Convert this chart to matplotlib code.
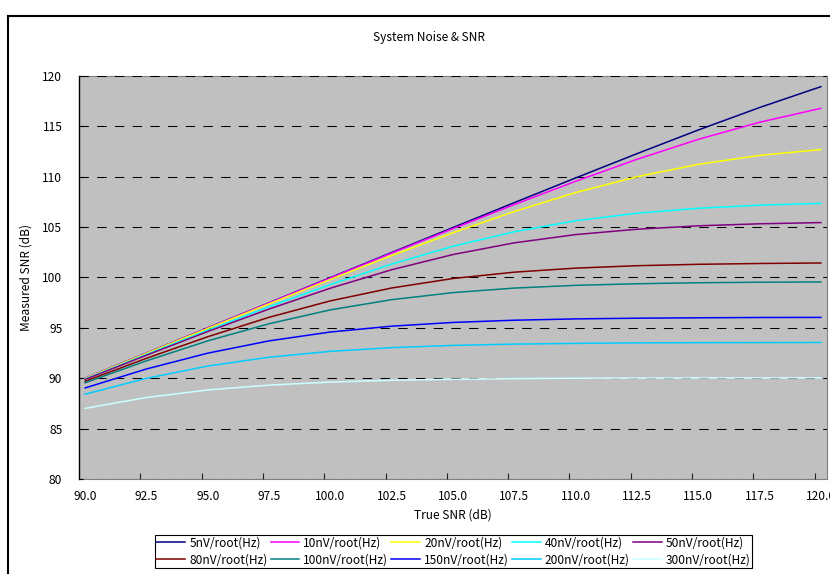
import matplotlib
matplotlib.use("Agg")
import matplotlib.pyplot as plt
from matplotlib.lines import Line2D
from matplotlib.ticker import FixedLocator, NullFormatter

plt.rcParams["font.family"] = ["Noto Sans CJK JP", "DejaVu Sans"]
plt.rcParams["font.size"] = 8.6

# true SNR sweep (dB)
true_snr = [90.0, 92.5, 95.0, 97.5, 100.0, 102.5, 105.0, 107.5, 110.0, 112.5, 115.0, 117.5, 120.0]

# measured SNR (dB) for each system noise density
snr_5nv = [90.00, 92.50, 95.00, 97.49, 99.99, 102.48, 104.96, 107.43, 109.88, 112.29, 114.64, 116.87, 118.94]
snr_10nv = [90.00, 92.49, 94.98, 97.47, 99.95, 102.42, 104.85, 107.24, 109.55, 111.73, 113.71, 115.41, 116.79]
snr_20nv = [89.98, 92.47, 94.94, 97.39, 99.81, 102.18, 104.44, 106.55, 108.43, 110.00, 111.23, 112.12, 112.70]
snr_40nv = [89.93, 92.37, 94.77, 97.10, 99.30, 101.33, 103.10, 104.54, 105.63, 106.38, 106.87, 107.18, 107.36]
snr_50nv = [89.88, 92.29, 94.64, 96.87, 98.94, 100.77, 102.28, 103.44, 104.26, 104.79, 105.13, 105.33, 105.45]
snr_80nv = [89.70, 91.98, 94.12, 96.05, 97.68, 98.96, 99.90, 100.53, 100.93, 101.17, 101.31, 101.39, 101.44]
snr_100nv = [89.55, 91.73, 93.71, 95.41, 96.79, 97.80, 98.50, 98.95, 99.22, 99.38, 99.48, 99.53, 99.56]
snr_150nv = [89.04, 90.92, 92.49, 93.71, 94.59, 95.17, 95.54, 95.76, 95.89, 95.96, 96.00, 96.03, 96.04]
snr_200nv = [88.42, 89.99, 91.21, 92.09, 92.67, 93.04, 93.26, 93.39, 93.46, 93.51, 93.53, 93.54, 93.55]
snr_300nv = [87.01, 88.09, 88.84, 89.32, 89.62, 89.80, 89.90, 89.96, 90.00, 90.02, 90.03, 90.03, 90.04]

series_names = ["5nV/root(Hz)", "10nV/root(Hz)", "20nV/root(Hz)", "40nV/root(Hz)", "50nV/root(Hz)",
                "80nV/root(Hz)", "100nV/root(Hz)", "150nV/root(Hz)", "200nV/root(Hz)", "300nV/root(Hz)"]
series_values = [snr_5nv, snr_10nv, snr_20nv, snr_40nv, snr_50nv,
                 snr_80nv, snr_100nv, snr_150nv, snr_200nv, snr_300nv]
series_colors = ["#000080", "#FF00FF", "#FFFF00", "#00FFFF", "#800080",
                 "#800000", "#008080", "#0000FF", "#00CCFF", "#CCFFFF"]

x_labels = [f"{v:.1f}" for v in true_snr]
y_ticks = [80, 85, 90, 95, 100, 105, 110, 115, 120]

W, H = 830, 574
fig = plt.figure(figsize=(W / 100, H / 100), dpi=100)

# chart frame
fig.add_artist(Line2D([8 / W, 1.0], [1 - 16 / H, 1 - 16 / H], color="black", lw=1.5))
fig.add_artist(Line2D([8 / W, 8 / W], [0.0, 1 - 16 / H], color="black", lw=1.5))

ax = fig.add_axes([79 / W, 1 - 479 / H, (827 - 79) / W, (479 - 76) / H])
ax.set_facecolor("#C0C0C0")

handles = []
for name, vals, col in zip(series_names, series_values, series_colors):
    line, = ax.plot(true_snr, vals, color=col, lw=1.1, label=name, zorder=3)
    handles.append(line)

# category-style x axis: half a step of padding either side
ax.set_xlim(89.75, 120.25)
ax.set_ylim(80, 120)
ax.set_xticks(true_snr)
ax.set_xticklabels(x_labels)
ax.tick_params(axis="x", which="major", length=0, pad=8)
ax.xaxis.set_minor_locator(FixedLocator([v - 0.25 for v in true_snr[1:]]))
ax.xaxis.set_minor_formatter(NullFormatter())
ax.tick_params(axis="x", which="minor", direction="in", length=4, width=0.8, color="#202020")
ax.set_yticks(y_ticks)
ax.tick_params(axis="y", direction="in", length=3, width=0.8, pad=12)

ax.set_axisbelow(True)
ax.grid(axis="y", color="black", lw=0.75, linestyle=(0, (9, 8)))
ax.grid(axis="x", visible=False)

for side in ["top", "right", "bottom"]:
    ax.spines[side].set_color("#808080")
    ax.spines[side].set_linewidth(0.8)
    ax.spines[side].set_zorder(0.4)
ax.spines["left"].set_color("black")
ax.spines["left"].set_linewidth(1.0)

ax.set_xlabel("True SNR (dB)", labelpad=4)
ax.set_ylabel("Measured SNR (dB)", labelpad=7)

fig.text(429 / W, 1 - 37 / H, "System Noise & SNR", ha="center", va="center")

# legend laid out row by row, five entries per row
order = [0, 5, 1, 6, 2, 7, 3, 8, 4, 9]
leg = fig.legend([handles[i] for i in order], [series_names[i] for i in order],
                 ncol=5, loc="upper left", mode="expand",
                 bbox_to_anchor=(155 / W, 1 - 571 / H, (752 - 155) / W, (571 - 535) / H),
                 borderaxespad=0, fancybox=False, frameon=True, framealpha=1,
                 edgecolor="black", handlelength=2.4, handletextpad=0.35,
                 labelspacing=0.35, borderpad=0.12, columnspacing=0.5)
leg.get_frame().set_linewidth(0.8)

fig.savefig("out.png", dpi=100, facecolor="white")
